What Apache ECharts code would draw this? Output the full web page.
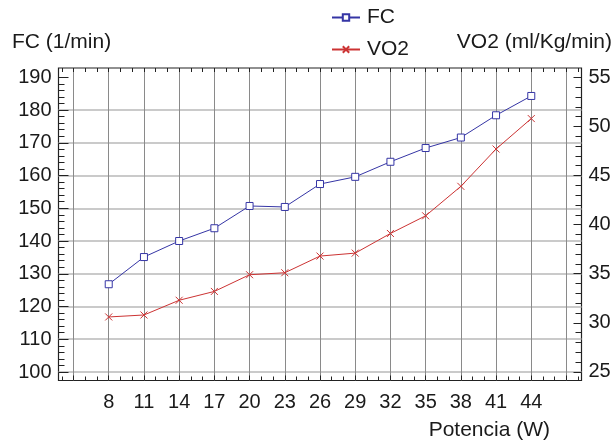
<!DOCTYPE html>
<html><head><meta charset="utf-8">
<script src="https://cdn.jsdelivr.net/npm/echarts@6/dist/echarts.min.js"></script>
<style>html,body{margin:0;padding:0;background:#fff}#c{width:615px;height:441px}</style>
</head><body><div id="c"></div>
<script>
// ---- data ----
const potencia = [8, 11, 14, 17, 20, 23, 26, 29, 32, 35, 38, 41, 44];
const fc = [126.8, 135.1, 140.0, 143.9, 150.7, 150.4, 157.4, 159.6, 164.2, 168.4, 171.6, 178.4, 184.3];
const vo2 = [30.6, 30.8, 32.3, 33.2, 34.9, 35.1, 36.8, 37.1, 39.1, 40.9, 43.9, 47.7, 50.8];
const xTickLabels = [8, 11, 14, 17, 20, 23, 26, 29, 32, 35, 38, 41, 44];
const xGridValues = [5, 8, 11, 14, 17, 20, 23, 26, 29, 32, 35, 38, 41, 44, 47];
const fcTickLabels = [100, 110, 120, 130, 140, 150, 160, 170, 180, 190];
const vo2TickLabels = [25, 30, 35, 40, 45, 50, 55];

// minor tick positions
const xMinor = [];
for (let v = 4; v <= 48; v++) if (xGridValues.indexOf(v) < 0) xMinor.push(v);
const xAllTop = [];
for (let v = 4; v <= 48; v++) xAllTop.push(v);
const fcMinor = [];
for (let v = 102; v <= 188; v += 2) if (v % 10 !== 0) fcMinor.push(v);
const vo2Minor = [];
for (let v = 26; v <= 54; v++) if (v % 5 !== 0) vo2Minor.push(v);

const FONT = 'Liberation Sans, Arial, sans-serif';
const TXT = '#1a1a1a';
const BLUE = '#3535a5';
const RED = '#cc3333';
const TICKFS = 20;
const TITLEFS = 21;

const fcAxisMin = 97.4, fcAxisMax = 192.84;
const voAxisMin = 24.13, voAxisMax = 55.95;

const splitColors = fcTickLabels.map((v, i) => i === fcTickLabels.length - 1 ? 'rgba(0,0,0,0)' : '#b8b8b8');

const chart = echarts.init(document.getElementById('c'), null, {renderer: 'canvas'});
chart.setOption({
  animation: false,
  backgroundColor: '#fff',
  textStyle: {fontFamily: FONT},
  title: [
    {text: 'FC (1/min)', left: 12, top: 32, padding: 0, textStyle: {fontSize: TITLEFS, fontWeight: 'normal', color: TXT, fontFamily: FONT}},
    {text: 'VO2 (ml/Kg/min)', right: 3, top: 32, padding: 0, textStyle: {fontSize: TITLEFS, fontWeight: 'normal', color: TXT, fontFamily: FONT}},
    {text: 'Potencia (W)', right: 65, top: 420, padding: 0, textStyle: {fontSize: TITLEFS, fontWeight: 'normal', color: TXT, fontFamily: FONT}}
  ],
  legend: {
    data: ['FC', 'VO2'],
    orient: 'vertical',
    left: 331, top: 7,
    itemWidth: 28, itemHeight: 8, itemGap: 11,
    padding: 0,
    textStyle: {fontSize: TITLEFS, color: TXT, fontFamily: FONT, padding: [0, 0, 0, 2]}
  },
  grid: {
    left: 58.5, right: 33.5, top: 68, bottom: 60.5,
    show: true, borderColor: '#222', borderWidth: 1.2, backgroundColor: '#fff'
  },
  xAxis: [
    {
      type: 'value', position: 'bottom', min: 3.72, max: 48.28,
      axisLine: {show: false},
      axisTick: {show: true, inside: true, length: 5, customValues: xGridValues, lineStyle: {color: '#222'}},
      axisLabel: {show: true, customValues: xTickLabels, fontSize: TICKFS, color: TXT, margin: 12, fontFamily: FONT},
      splitLine: {show: true, lineStyle: {color: '#8a8a8a', width: 1}}
    },
    {
      type: 'value', position: 'bottom', min: 3.72, max: 48.28,
      axisLine: {show: false},
      axisTick: {show: true, inside: true, length: 4, customValues: xMinor, lineStyle: {color: '#222'}},
      axisLabel: {show: false},
      splitLine: {show: false}
    },
    {
      type: 'value', position: 'top', min: 3.72, max: 48.28,
      axisLine: {show: false},
      axisTick: {show: true, inside: true, length: 4, customValues: xAllTop, lineStyle: {color: '#222'}},
      axisLabel: {show: false},
      splitLine: {show: false}
    }
  ],
  yAxis: [
    {
      type: 'value', position: 'left', min: fcAxisMin, max: fcAxisMax,
      axisLine: {show: false},
      axisTick: {show: true, inside: true, length: 10, customValues: fcTickLabels, lineStyle: {color: '#222'}},
      axisLabel: {show: true, customValues: fcTickLabels, fontSize: TICKFS, color: TXT, margin: 7, fontFamily: FONT},
      splitLine: {show: true, lineStyle: {color: splitColors, width: 1.5}}
    },
    {
      type: 'value', position: 'right', min: voAxisMin, max: voAxisMax,
      axisLine: {show: false},
      axisTick: {show: true, inside: true, length: 8, customValues: vo2TickLabels, lineStyle: {color: '#222'}},
      axisLabel: {show: true, customValues: vo2TickLabels, fontSize: TICKFS, color: TXT, margin: 7, fontFamily: FONT},
      splitLine: {show: false}
    },
    {
      type: 'value', position: 'left', min: fcAxisMin, max: fcAxisMax,
      axisLine: {show: false},
      axisTick: {show: true, inside: true, length: 6, customValues: fcMinor, lineStyle: {color: '#222'}},
      axisLabel: {show: false},
      splitLine: {show: false}
    },
    {
      type: 'value', position: 'right', min: voAxisMin, max: voAxisMax,
      axisLine: {show: false},
      axisTick: {show: true, inside: true, length: 6, customValues: vo2Minor, lineStyle: {color: '#222'}},
      axisLabel: {show: false},
      splitLine: {show: false}
    }
  ],
  series: [
    {
      name: 'FC', type: 'line', xAxisIndex: 0, yAxisIndex: 0,
      data: potencia.map((x, i) => [x, fc[i]]),
      symbol: 'rect', symbolSize: 7,
      itemStyle: {color: '#ffffff', borderColor: BLUE, borderWidth: 1},
      lineStyle: {color: BLUE, width: 1},
      z: 5
    },
    {
      name: 'VO2', type: 'line', xAxisIndex: 0, yAxisIndex: 1,
      data: potencia.map((x, i) => [x, vo2[i]]),
      symbol: 'path://M0,0L10,10M10,0L0,10', symbolSize: 7,
      itemStyle: {color: 'none', borderColor: RED, borderWidth: 1},
      lineStyle: {color: RED, width: 1},
      z: 5
    }
  ]
});
</script>
</body></html>
